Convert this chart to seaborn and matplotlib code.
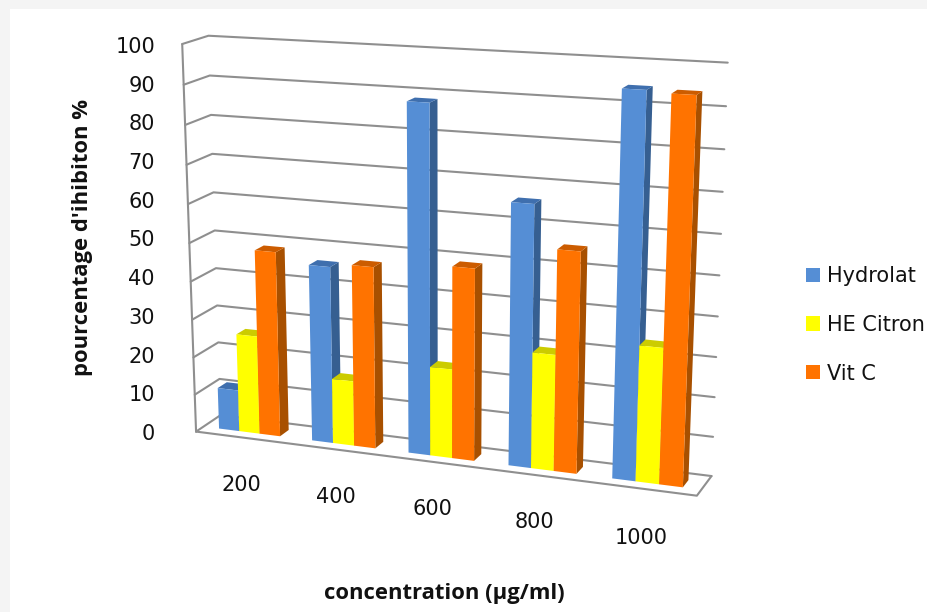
import numpy as np
import pandas as pd
import matplotlib
matplotlib.use("Agg")
import matplotlib.pyplot as plt
import seaborn as sns
from matplotlib.patches import Polygon, Rectangle
from matplotlib.lines import Line2D
from matplotlib.transforms import Transform, IdentityTransform, ScaledTranslation

concentrations = ["200", "400", "600", "800", "1000"]
hydrolat = [11, 46, 88.5, 66, 94.5]
he_citron = [26, 17, 23, 29.5, 34]
vit_c = [48.5, 47, 49, 55.5, 94]
series_names = ["Hydrolat", "HE Citron", "Vit C"]
front_colors = ["#558ED5", "#FFFF00", "#FF7300"]
side_colors = ["#365F91", "#C4C400", "#A85000"]
top_colors = ["#3F6FAE", "#CCCC00", "#CC5C00"]

W, H = 928, 612
sns.set_theme(style="white", rc={"font.family": ["DejaVu Sans"]})
fig = plt.figure(figsize=(W / 100, H / 100), dpi=100, facecolor="#F4F4F4")
fig.add_artist(Rectangle((10 / W, 0), 1, 1 - 9 / H, transform=fig.transFigure,
                         facecolor="white", edgecolor="none", zorder=-10))
AX_L, AX_R, AX_T, AX_B = 191, 691, 45, 432
ax = fig.add_axes([AX_L / W, 1 - AX_B / H, (AX_R - AX_L) / W, (AX_B - AX_T) / H])
ax.patch.set_alpha(0)

# perspective calibration: (u, v, depth) of the chart box -> image pixels
cal = [((0, 0, 0), (196.7, 430.7)), ((0, 1, 0), (181.7, 44.0)), ((0, 1, 1), (209.0, 35.7)),
       ((0, 0, 1), (220.0, 416.0)), ((1, 0, 0), (696.7, 496.7)), ((1, 0, 1), (711.7, 475.0)),
       ((1, 1, 1), (727.7, 62.7))]
A, b = [], []
for (u, v, d), (px, py) in cal:
    A.append([u, v, d, 1, 0, 0, 0, 0, -px * u, -px * v, -px * d])
    b.append(px)
    A.append([0, 0, 0, 0, u, v, d, 1, -py * u, -py * v, -py * d])
    b.append(py)
sol = np.linalg.lstsq(np.array(A), np.array(b), rcond=None)[0]
M = np.array([sol[:4], sol[4:8], [*sol[8:], 1.0]])


def project(x, y, d):
    """category position x, value y, depth d -> display coordinates"""
    x, y = np.asarray(x, float), np.asarray(y, float)
    u, v = (x + 0.5) / 5, y / 100
    q = np.stack([u, v, np.full_like(u, d), np.ones_like(u)], axis=-1) @ M.T
    return np.column_stack([q[..., 0] / q[..., 2], H - q[..., 1] / q[..., 2]])


class Plane(Transform):
    input_dims = output_dims = 2
    is_affine = False
    has_inverse = False

    def __init__(self, plane_depth):
        super().__init__()
        self.plane_depth = plane_depth

    def transform_non_affine(self, values):
        values = np.asarray(values)
        return project(values[:, 0], values[:, 1], self.plane_depth)


df = pd.DataFrame({
    "concentration": concentrations * 3,
    "serie": np.repeat(series_names, len(concentrations)),
    "valeur": hydrolat + he_citron + vit_c,
})
sns.barplot(data=df, x="concentration", y="valeur", hue="serie", order=concentrations,
            hue_order=series_names, palette=front_colors, saturation=1, width=0.66, gap=0,
            linewidth=0, ax=ax, errorbar=None)
ax.set_xlim(-0.5, 4.5)
ax.set_ylim(0, 100)

# walls and floor
IDT = IdentityTransform()
GRID = "#8F8F8F"
def wall_line(xs, ys, ds):
    pts = np.vstack([project([x], [y], d) for x, y, d in zip(xs, ys, ds)])
    ax.add_line(Line2D(pts[:, 0], pts[:, 1], transform=IDT, color=GRID, lw=1.5, zorder=1, clip_on=False))

ticks = list(range(0, 101, 10))
for t in ticks:
    wall_line([-0.5, -0.5, 4.5], [t, t, t], [0, 1, 1])
wall_line([-0.5, -0.5], [0, 100], [0, 0])
wall_line([-0.5, 4.5, 4.5], [0, 0, 0], [0, 0, 1])

# bars: the front faces come from seaborn, side and top faces follow from them
D0, D1 = 0.30, 0.67
front_plane = Plane(D0)
z = 10
bars = sorted([(p.get_x(), p, i) for i, c in enumerate(ax.containers) for p in c], key=lambda t: t[0])
for _, p, i in bars:
    x0, x1, h = p.get_x(), p.get_x() + p.get_width(), p.get_height()
    side = np.vstack([project([x1], [0], D0), project([x1], [0], D1), project([x1], [h], D1), project([x1], [h], D0)])
    top = np.vstack([project([x0], [h], D0), project([x1], [h], D0), project([x1], [h], D1), project([x0], [h], D1)])
    ax.add_patch(Polygon(side, closed=True, transform=IDT, facecolor=side_colors[i], edgecolor="none", zorder=z, clip_on=False))
    ax.add_patch(Polygon(top, closed=True, transform=IDT, facecolor=top_colors[i], edgecolor="none", zorder=z + 0.1, clip_on=False))
    p.set_transform(front_plane)
    p.set_clip_on(False)
    p.set_zorder(z + 0.2)
    z += 1

for s in ax.spines.values():
    s.set_visible(False)
ax.grid(False)
ax.set_yticks(ticks)
ax.set_xticks(range(len(concentrations)))
ax.set_xticklabels(concentrations)
ax.tick_params(axis="y", length=0, pad=(AX_L - 155) * 0.72, labelsize=15, labelcolor="#111111")
ax.tick_params(axis="x", length=0, pad=0, labelsize=15, labelcolor="#111111")
fig.canvas.draw()
# x labels follow the sloping floor (pixel offsets)
label_dx = [0, -5, -9, -7, 0]
label_dy = [-43, -55, -67, -80, -96]
for lab, dx, dy in zip(ax.get_xticklabels(), label_dx, label_dy):
    lab.set_transform(lab.get_transform() + ScaledTranslation(dx / 100, dy / 100, fig.dpi_scale_trans))
ax.set_xlabel("")
ax.set_ylabel("")
fig.text(83 / W, 1 - 237 / H, "pourcentage d'ihibiton %", rotation=90, ha="center", va="center",
         fontsize=15.8, fontweight="bold", color="#111111", family=["Open Sans", "DejaVu Sans"])
fig.text(444 / W, 1 - 594 / H, "concentration (µg/ml)", ha="center", va="center",
         fontsize=15.8, fontweight="bold", color="#111111", family=["Open Sans", "DejaVu Sans"])

handles, labels = ax.get_legend_handles_labels()
leg = ax.legend(handles, labels, loc="upper left", bbox_to_anchor=(806 / W, 1 - 266 / H),
                bbox_transform=fig.transFigure, frameon=False, fontsize=15, handlelength=0.67,
                handleheight=0.67, handletextpad=0.33, labelspacing=1.38, borderpad=0, borderaxespad=0)
for t in leg.get_texts():
    t.set_color("#111111")
fig.savefig("out.png", dpi=100, facecolor=fig.get_facecolor())
